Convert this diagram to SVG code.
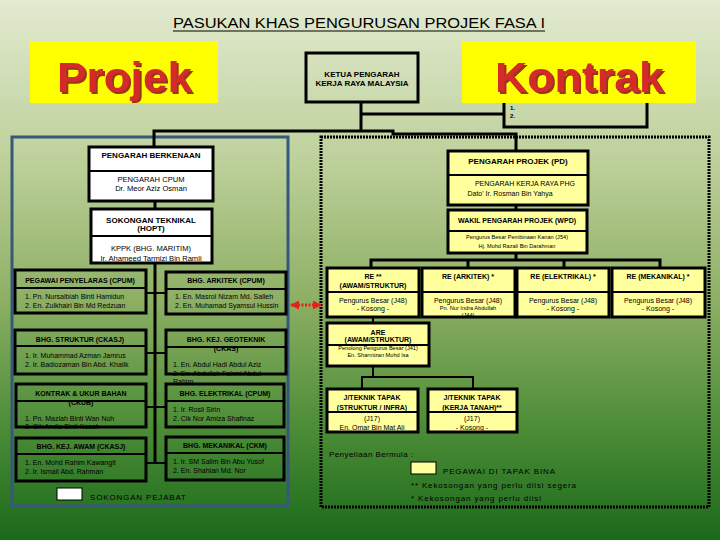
<svg xmlns="http://www.w3.org/2000/svg" width="720" height="540" viewBox="0 0 720 540">
<defs>
<linearGradient id="bg" x1="0" y1="0" x2="0" y2="1">
<stop offset="0" stop-color="#e2eacf"/>
<stop offset="0.3" stop-color="#bdd09a"/>
<stop offset="0.55" stop-color="#8eb065"/>
<stop offset="0.78" stop-color="#4f8e38"/>
<stop offset="1" stop-color="#1b6a1b"/>
</linearGradient>
<filter id="sh" x="-10%" y="-10%" width="130%" height="140%">
<feFlood flood-color="#9a3414"/>
<feComposite in2="SourceAlpha" operator="in"/>
<feOffset dx="2" dy="2" result="s"/>
<feMerge><feMergeNode in="s"/><feMergeNode in="SourceGraphic"/></feMerge>
</filter>
<marker id="ah" viewBox="0 0 10 10" refX="9" refY="5" markerWidth="3" markerHeight="3" orient="auto-start-reverse">
<path d="M0,0 L10,5 L0,10 z" fill="#e8201c"/>
</marker>
<style>
.bx{fill:none;stroke:#000;stroke-width:3}
.wf{fill:#fff}
.yf{fill:#ffff9e}
.sep{stroke:#000;stroke-width:2}
.ln{fill:none;stroke:#000;stroke-width:3}
.ln2{fill:none;stroke:#000;stroke-width:2}
text{font-family:"Liberation Sans",Arial,sans-serif;fill:#000}
.h{font-size:7px;font-weight:bold;text-anchor:middle}
.h8{font-size:8px;font-weight:bold;text-anchor:middle}
.t{font-size:7px;text-anchor:middle}
.t8{font-size:7.6px;text-anchor:middle}
.tl{font-size:7px}
.tiny{font-size:5.6px;text-anchor:middle}
.big{font-size:42px;font-weight:bold;filter:url(#sh)}
.lg{font-size:8px}
</style>
</defs>
<rect x="0" y="0" width="720" height="540" fill="url(#bg)"/>

<g id="title">
<text x="359" y="28" font-size="14" text-anchor="middle" textLength="372" lengthAdjust="spacingAndGlyphs">PASUKAN KHAS PENGURUSAN PROJEK FASA I</text>
<line x1="173" y1="31" x2="545" y2="31" stroke="#000" stroke-width="1"/>
</g>

<!-- frames -->
<rect x="12" y="137" width="276" height="369" fill="none" stroke="#36587a" stroke-width="3"/>
<rect x="321" y="137" width="388" height="370" fill="none" stroke="#000" stroke-width="3" stroke-dasharray="2 1"/>

<g id="connectors">
<path class="ln" d="M361,102 V131"/>
<path class="ln" d="M361,114 H504"/>
<path class="ln" d="M154,147 V131 H393 V134 H516 V151"/>
<path class="ln" d="M155,200 V209"/>
<path class="ln" d="M155,263 V463"/>
<path class="ln2" d="M146,293 H166 M146,353 H166 M146,407 H166 M146,463 H166"/>
<path class="ln" d="M516,205 V210"/>
<path class="ln" d="M516,253 V260 M371,268 V260 H660 V268 M468,260 V268 M564,260 V268"/>
<path class="ln2" d="M373,317 V323"/>
<path class="ln2" d="M373,366 V377 M362,389 V377 H473 V389"/>
<line x1="291" y1="305" x2="321" y2="305" stroke="#e8201c" stroke-width="3" stroke-dasharray="2 1.5" marker-start="url(#ah)" marker-end="url(#ah)"/>
</g>

<g id="projek">
<rect x="30" y="41" width="188" height="62" fill="#ffff00"/>
<text class="big" x="57" y="92" textLength="135" lengthAdjust="spacingAndGlyphs" style="fill:#d42a2c">Projek</text>
</g>

<g id="ketua">
<rect class="bx" x="306" y="53" width="112" height="49"/>
<text class="h8" x="362" y="77">KETUA PENGARAH</text>
<text class="h8" x="362" y="86">KERJA RAYA MALAYSIA</text>
</g>

<g id="ksu">
<rect class="bx" x="504" y="90" width="143" height="37"/>
<text x="510" y="110" font-size="6" font-weight="bold">1.</text>
<text x="510" y="118" font-size="6" font-weight="bold">2.</text>
</g>

<g id="kontrak">
<rect x="462" y="41" width="234" height="62" fill="#ffff00"/>
<text class="big" x="495" y="92" textLength="169" lengthAdjust="spacingAndGlyphs" style="fill:#d42a2c">Kontrak</text>
</g>

<g id="pengarah-berkenaan">
<rect class="wf" x="89" y="147" width="124" height="54"/>
<text class="h8" x="151" y="158">PENGARAH BERKENAAN</text>
<text class="t8" x="151" y="182">PENGARAH CPUM</text>
<text class="t8" x="151" y="191">Dr. Meor Aziz Osman</text>
<line class="sep" x1="89" y1="171" x2="213" y2="171"/>
<rect class="bx" x="89" y="147" width="124" height="54"/>
</g>

<g id="sokongan-teknikal">
<rect class="wf" x="91" y="209" width="121" height="54"/>
<text class="h8" x="151" y="223">SOKONGAN TEKNIKAL</text>
<text class="h8" x="151" y="231">(HOPT)</text>
<text class="t8" x="151" y="251">KPPK (BHG. MARITIM)</text>
<text class="t8" x="151" y="261">Ir. Ahameed Tarmizi Bin Ramli</text>
<line class="sep" x1="91" y1="236" x2="212" y2="236"/>
<rect class="bx" x="91" y="209" width="121" height="54"/>
</g>

<g id="pegawai-penyelaras">
<text class="h" x="80" y="283">PEGAWAI PENYELARAS (CPUM)</text>
<text class="tl" x="25" y="299">1. Pn. Nursalbiah Binti Hamidun</text>
<text class="tl" x="25" y="308">2. En. Zulkhairi Bin Md Redzuan</text>
<line class="sep" x1="15" y1="288" x2="146" y2="288"/>
<rect class="bx" x="15" y="270" width="131" height="43"/>
</g>

<g id="bhg-arkitek">
<text class="h" x="226" y="283">BHG. ARKITEK (CPUM)</text>
<text class="tl" x="175" y="299">1. En. Masrol Nizam Md. Salleh</text>
<text class="tl" x="175" y="308">2. En. Muhamad Syamsul Hussin</text>
<line class="sep" x1="166" y1="289" x2="286" y2="289"/>
<rect class="bx" x="166" y="272" width="120" height="42"/>
</g>

<g id="bhg-struktur">
<text class="h" x="80" y="342">BHG. STRUKTUR (CKASJ)</text>
<text class="tl" x="25" y="358">1. Ir. Muhammad Azman Jamrus</text>
<text class="tl" x="25" y="367">2. Ir. Badiozaman Bin Abd. Khalik</text>
<line class="sep" x1="15" y1="346" x2="146" y2="346"/>
<rect class="bx" x="15" y="330" width="131" height="44"/>
</g>

<g id="bhg-geoteknik">
<text class="h" x="226" y="342">BHG. KEJ. GEOTEKNIK</text>
<text class="h" x="226" y="351">(CKAS)</text>
<text class="tl" x="173" y="367">1. En. Abdul Hadi Abdul Aziz</text>
<text class="tl" x="173" y="376">2. En. Abdullah Fahmi Abdul</text>
<text class="tl" x="173" y="384">Rahim</text>
<line class="sep" x1="166" y1="347" x2="286" y2="347"/>
<rect class="bx" x="166" y="330" width="120" height="44"/>
</g>

<g id="kontrak-ukur">
<text class="h" x="81" y="396">KONTRAK &amp; UKUR BAHAN</text>
<text class="h" x="81" y="405">(CKUB)</text>
<text class="tl" x="25" y="421">1. Pn. Mazlah Binti Wan Noh</text>
<text class="tl" x="25" y="429">2. Cik Andia Binti Kasah</text>
<line class="sep" x1="16" y1="401" x2="146" y2="401"/>
<rect class="bx" x="16" y="384" width="130" height="43"/>
</g>

<g id="bhg-elektrikal">
<text class="h" x="225" y="396">BHG. ELEKTRIKAL (CPUM)</text>
<text class="tl" x="173" y="412">1. Ir. Rosli Sirin</text>
<text class="tl" x="173" y="421">2. Cik Nor Amiza Shafinaz</text>
<line class="sep" x1="166" y1="401" x2="284" y2="401"/>
<rect class="bx" x="166" y="384" width="118" height="43"/>
</g>

<g id="bhg-awam">
<text class="h" x="81" y="449">BHG. KEJ. AWAM (CKASJ)</text>
<text class="tl" x="25" y="465">1. En. Mohd Rahim Kawangit</text>
<text class="tl" x="25" y="474">2. Ir. Ismail Abd. Rahman</text>
<line class="sep" x1="16" y1="454" x2="146" y2="454"/>
<rect class="bx" x="16" y="438" width="130" height="43"/>
</g>

<g id="bhg-mekanikal">
<text class="h" x="225" y="448">BHG. MEKANIKAL (CKM)</text>
<text class="tl" x="173" y="464">1. Ir. SM Salim Bin Abu Yusof</text>
<text class="tl" x="173" y="473">2. En. Shahlan Md. Nor</text>
<line class="sep" x1="166" y1="453" x2="284" y2="453"/>
<rect class="bx" x="166" y="437" width="118" height="43"/>
</g>

<g id="legend-pejabat">
<rect x="57" y="488" width="25" height="12" fill="#fff" stroke="#000" stroke-width="1"/>
<text class="lg" x="90" y="500" textLength="96" lengthAdjust="spacing">SOKONGAN PEJABAT</text>
</g>

<g id="pd">
<rect class="yf" x="448" y="151" width="140" height="54"/>
<text class="h8" x="518" y="164">PENGARAH PROJEK (PD)</text>
<text class="t" x="525" y="186">PENGARAH KERJA RAYA PHG</text>
<text class="t" x="510" y="196">Dato' Ir. Rosman Bin Yahya</text>
<line class="sep" x1="448" y1="175" x2="588" y2="175"/>
<rect class="bx" x="448" y="151" width="140" height="54"/>
</g>

<g id="wpd">
<rect class="yf" x="448" y="210" width="139" height="43"/>
<text class="h" x="517" y="223">WAKIL PENGARAH PROJEK (WPD)</text>
<text class="tiny" x="517" y="239">Pengurus Besar Pembinaan Kanan (J54)</text>
<text class="tiny" x="517" y="248">Hj. Mohd Razali Bin Darahman</text>
<line class="sep" x1="448" y1="231" x2="587" y2="231"/>
<rect class="bx" x="448" y="210" width="139" height="43"/>
</g>

<g id="re-awam">
<rect class="yf" x="327" y="268" width="92" height="49"/>
<text class="h" x="373" y="279">RE **</text>
<text class="h" x="373" y="288">(AWAM/STRUKTUR)</text>
<text class="t" x="373" y="303">Pengurus Besar (J48)</text>
<text class="t" x="373" y="311">- Kosong -</text>
<line class="sep" x1="327" y1="292" x2="419" y2="292"/>
<rect class="bx" x="327" y="268" width="92" height="49"/>
</g>

<g id="re-arkitek">
<rect class="yf" x="422" y="268" width="93" height="49"/>
<text class="h" x="468" y="279">RE (ARKITEK) *</text>
<text class="t" x="468" y="303">Pengurus Besar (J48)</text>
<text class="tiny" x="468" y="310">Pn. Nur Indra Abdullah</text>
<text class="tiny" x="468" y="317">(J44)</text>
<line class="sep" x1="422" y1="292" x2="515" y2="292"/>
<rect class="bx" x="422" y="268" width="93" height="49"/>
</g>

<g id="re-elektrikal">
<rect class="yf" x="517" y="268" width="92" height="49"/>
<text class="h" x="563" y="279">RE (ELEKTRIKAL) *</text>
<text class="t" x="563" y="303">Pengurus Besar (J48)</text>
<text class="t" x="563" y="311">- Kosong -</text>
<line class="sep" x1="517" y1="292" x2="609" y2="292"/>
<rect class="bx" x="517" y="268" width="92" height="49"/>
</g>

<g id="re-mekanikal">
<rect class="yf" x="612" y="268" width="93" height="49"/>
<text class="h" x="658" y="279">RE (MEKANIKAL) *</text>
<text class="t" x="658" y="303">Pengurus Besar (J48)</text>
<text class="t" x="658" y="311">- Kosong -</text>
<line class="sep" x1="612" y1="292" x2="705" y2="292"/>
<rect class="bx" x="612" y="268" width="93" height="49"/>
</g>

<g id="are">
<rect class="yf" x="327" y="323" width="102" height="43"/>
<text class="h" x="378" y="335">ARE</text>
<text class="h" x="378" y="342">(AWAM/STRUKTUR)</text>
<text class="tiny" x="378" y="350">Penolong Pengurus Besar (J41)</text>
<text class="tiny" x="378" y="357">En. Sharmizan Mohd Isa</text>
<line class="sep" x1="327" y1="345" x2="429" y2="345"/>
<rect class="bx" x="327" y="323" width="102" height="43"/>
</g>

<g id="jt-struktur">
<rect class="yf" x="327" y="389" width="91" height="43"/>
<text class="h" x="372" y="400">J/TEKNIK TAPAK</text>
<text class="h" x="372" y="410">(STRUKTUR / INFRA)</text>
<text class="t" x="372" y="421">(J17)</text>
<text class="t" x="372" y="430">En. Omar Bin Mat Ali</text>
<line class="sep" x1="327" y1="412" x2="418" y2="412"/>
<rect class="bx" x="327" y="389" width="91" height="43"/>
</g>

<g id="jt-tanah">
<rect class="yf" x="428" y="389" width="89" height="43"/>
<text class="h" x="472" y="400">J/TEKNIK TAPAK</text>
<text class="h" x="472" y="410">(KERJA TANAH)**</text>
<text class="t" x="472" y="421">(J17)</text>
<text class="t" x="472" y="430">- Kosong -</text>
<line class="sep" x1="428" y1="412" x2="517" y2="412"/>
<rect class="bx" x="428" y="389" width="89" height="43"/>
</g>

<g id="legend-tapak">
<text class="lg" x="329" y="457" textLength="84" lengthAdjust="spacing">Penyeliaan Bermula :</text>
<rect x="411" y="462" width="25" height="12" fill="#ffff9e" stroke="#000" stroke-width="1"/>
<text class="lg" x="443" y="474" textLength="112" lengthAdjust="spacing">PEGAWAI DI TAPAK BINA</text>
<text class="lg" x="411" y="488" textLength="165" lengthAdjust="spacing">** Kekosongan yang perlu diisi segera</text>
<text class="lg" x="411" y="501" textLength="130" lengthAdjust="spacing">*  Kekosongan yang perlu diisi</text>
</g>
</svg>
